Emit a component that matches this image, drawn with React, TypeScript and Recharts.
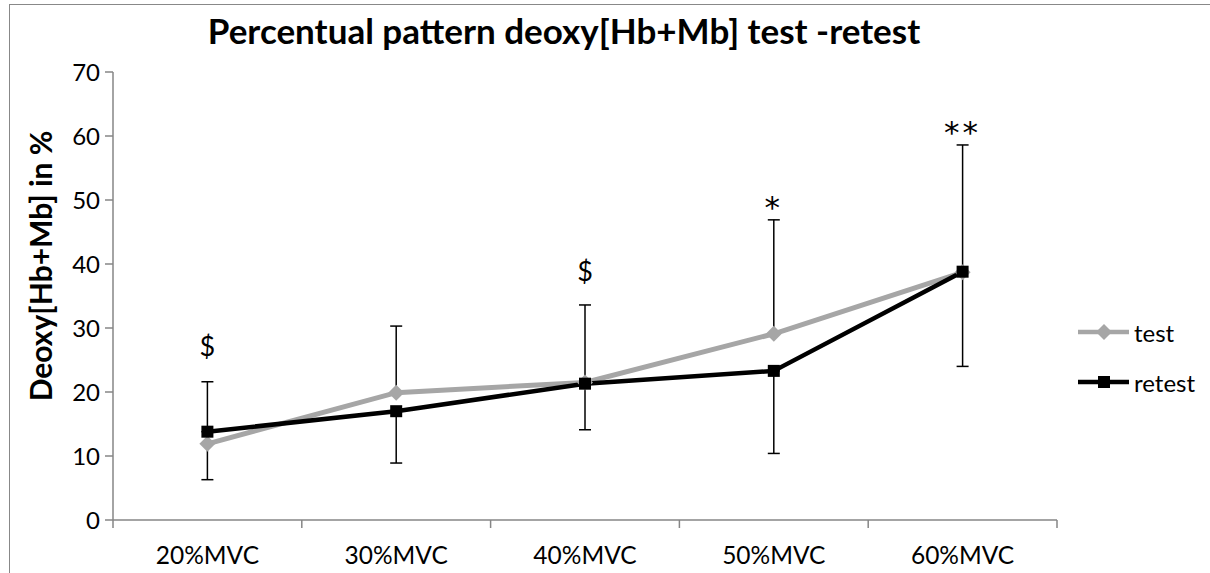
import React from 'react';
import {
  LineChart,
  Line,
  XAxis,
  YAxis,
  ErrorBar,
  Legend,
  ReferenceDot,
} from 'recharts';

const categories = ['20%MVC', '30%MVC', '40%MVC', '50%MVC', '60%MVC'];
const seriesNames = ['test', 'retest'];
const testValues = [11.9, 19.9, 21.5, 29.1, 38.7];
const retestValues = [13.8, 17.0, 21.3, 23.3, 38.8];
// test carries the upper error bars, retest the lower ones
const testErrorUp = [9.7, 10.4, 12.1, 17.8, 19.9];
const retestErrorDown = [7.5, 8.1, 7.2, 12.9, 14.8];
const marks = ['$', '', '$', '*', '**'];
const markHeights = [27.2, null, 39.0, 50.3, 62.0];
const yTicks = [0, 10, 20, 30, 40, 50, 60, 70];

const FONT = 'Lato, "Noto Sans", sans-serif';
const GREY = '#a6a6a6';
const AXIS = '#868686';

const data = categories.map((name, i) => ({
  pos: i + 0.5,
  name,
  test: testValues[i],
  retest: retestValues[i],
  testErr: [0, testErrorUp[i]],
  retestErr: [retestErrorDown[i], 0],
}));

// boundaries get tick marks, centres get the category label
const xTicks: number[] = [];
for (let i = 0; i <= categories.length * 2; i++) xTicks.push(i / 2);

const XTick = (props: any) => {
  const { x, y, payload } = props;
  const v = payload.value;
  if (Number.isInteger(v)) {
    return <line x1={x} x2={x} y1={y} y2={y + 8} stroke={AXIS} strokeWidth={1.5} />;
  }
  return (
    <text x={x} y={y + 35} dy="0.35em" textAnchor="middle" fill="#000" fontSize={24.5} fontFamily={FONT}>
      {categories[Math.floor(v)]}
    </text>
  );
};

const Diamond = (props: any) => {
  const { cx, cy } = props;
  if (cx == null || cy == null) return null;
  return (
    <polygon
      points={`${cx},${cy - 8} ${cx + 8},${cy} ${cx},${cy + 8} ${cx - 8},${cy}`}
      fill={GREY}
    />
  );
};

const Square = (props: any) => {
  const { cx, cy } = props;
  if (cx == null || cy == null) return null;
  return <rect x={cx - 6} y={cy - 6} width={12} height={12} fill="#000" />;
};

const renderLegend = (props: any) => {
  const payload = [...props.payload].sort(
    (a: any, b: any) => seriesNames.indexOf(a.value) - seriesNames.indexOf(b.value)
  );
  return (
    <div style={{ fontFamily: FONT, fontSize: 24 }}>
      {payload.map((entry: any) => (
        <div key={entry.value} style={{ display: 'flex', alignItems: 'center', height: 50 }}>
          <svg width={54} height={20}>
            <line x1={1} x2={52} y1={10} y2={10} stroke={entry.color} strokeWidth={4.5} />
            {entry.value === 'test' ? <Diamond cx={27} cy={10} /> : <Square cx={27} cy={10} />}
          </svg>
          <span style={{ marginLeft: 3, color: '#000' }}>{entry.value}</span>
        </div>
      ))}
    </div>
  );
};

const markLabel = (text: string) => (p: any) => {
  const vb = p.viewBox;
  const cx = vb.x + (vb.width || 0) / 2;
  const cy = vb.y + (vb.height || 0) / 2;
  const star = text.includes('*');
  return (
    <text
      x={cx}
      y={cy}
      dy={star ? 9 : 0}
      textAnchor="middle"
      dominantBaseline="central"
      fontFamily={star ? '"DejaVu Sans", sans-serif' : FONT}
      fontSize={star ? 31 : 27}
      letterSpacing={star ? 3 : 0}
      fill="#000"
    >
      {text}
    </text>
  );
};

export default function App() {
  return (
    <div style={{ position: 'absolute', left: 0, top: 0, width: 1210, height: 573, overflow: 'hidden', background: '#fff' }}>
      <div
        style={{
          position: 'absolute',
          left: 9,
          top: 4,
          width: 1300,
          height: 700,
          borderLeft: '1.5px solid #888',
          borderTop: '1.5px solid #888',
        }}
      />
      <div
        style={{
          position: 'absolute',
          left: 0,
          top: 9,
          width: 1128,
          textAlign: 'center',
          fontFamily: FONT,
          fontWeight: 'bold',
          fontSize: 35,
          lineHeight: '42px',
          color: '#000',
        }}
      >
        Percentual pattern deoxy[Hb+Mb] test -retest
      </div>
      <LineChart
        width={1210}
        height={573}
        data={data}
        margin={{ top: 72, right: 153, bottom: 13, left: 10 }}
        style={{ position: 'absolute', left: 0, top: 0 }}
      >
        <XAxis
          type="number"
          dataKey="pos"
          domain={[0, categories.length]}
          ticks={xTicks}
          interval={0}
          tick={<XTick />}
          tickLine={false}
          tickSize={0}
          tickMargin={0}
          height={40}
          axisLine={{ stroke: AXIS, strokeWidth: 1.5 }}
        />
        <YAxis
          domain={[0, 70]}
          ticks={yTicks}
          interval={0}
          width={103}
          tickSize={8}
          tickMargin={5}
          axisLine={{ stroke: AXIS, strokeWidth: 1.5 }}
          tickLine={{ stroke: AXIS, strokeWidth: 1.5 }}
          tick={{ fill: '#000', fontSize: 24, fontFamily: FONT }}
          label={(p: any) => {
            const vb = p.viewBox;
            const cx = vb.x + 30;
            const cy = vb.y + vb.height / 2 - 30;
            return (
              <text
                x={cx}
                y={cy}
                transform={`rotate(-90, ${cx}, ${cy})`}
                textAnchor="middle"
                dominantBaseline="central"
                fontFamily={FONT}
                fontWeight="bold"
                fontSize={30}
                fill="#000"
              >
                Deoxy[Hb+Mb] in %
              </text>
            );
          }}
        />
        <Line
          dataKey="test"
          name="test"
          stroke={GREY}
          strokeWidth={5}
          dot={<Diamond />}
          activeDot={false}
          isAnimationActive={false}
        >
          <ErrorBar dataKey="testErr" width={6} stroke="#000" strokeWidth={1.5} direction="y" />
        </Line>
        <Line
          dataKey="retest"
          name="retest"
          stroke="#000"
          strokeWidth={4.5}
          dot={<Square />}
          activeDot={false}
          isAnimationActive={false}
        >
          <ErrorBar dataKey="retestErr" width={6} stroke="#000" strokeWidth={1.5} direction="y" />
        </Line>
        {marks.map((m, i) =>
          m && markHeights[i] != null ? (
            <ReferenceDot
              key={i}
              x={i + 0.5}
              y={markHeights[i] as number}
              r={0}
              fill="none"
              stroke="none"
              label={markLabel(m)}
            />
          ) : null
        )}
        <Legend
          layout="vertical"
          align="center"
          verticalAlign="middle"
          content={renderLegend}
          wrapperStyle={{ left: 1077, top: 307, width: 130, height: 100 }}
        />
      </LineChart>
    </div>
  );
}
